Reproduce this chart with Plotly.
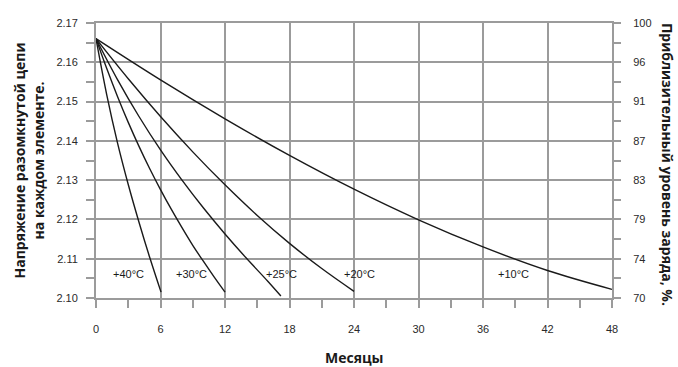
import plotly.graph_objects as go

# ---- data ----
months_40 = [0, 1, 2, 3, 4, 5, 6.05]
volts_40 = [2.166, 2.1517, 2.1395, 2.1289, 2.1193, 2.1103, 2.1015]

months_30 = [0, 1, 2, 3, 4, 5, 6, 7, 8, 9, 10, 11, 12]
volts_30 = [2.166, 2.1584, 2.1513, 2.1447, 2.1386, 2.1329, 2.1276, 2.1226, 2.1179, 2.1134, 2.1093, 2.1053, 2.1015]

months_25 = [0, 2, 4, 6, 8, 10, 12, 14, 16, 17.2]
volts_25 = [2.166, 2.1556, 2.1462, 2.1377, 2.1300, 2.1229, 2.1163, 2.1101, 2.1042, 2.1005]

months_20 = [0, 3, 6, 9, 12, 15, 18, 21, 24]
volts_20 = [2.166, 2.1558, 2.1462, 2.1372, 2.1288, 2.1210, 2.1139, 2.1075, 2.1017]

months_10 = [0, 6, 12, 18, 24, 30, 36, 42, 48]
volts_10 = [2.166, 2.1555, 2.1456, 2.1363, 2.1277, 2.1199, 2.1130, 2.1070, 2.1022]

curve_labels = ["+40°C", "+30°C", "+25°C", "+20°C", "+10°C"]
label_months = [3.0, 8.85, 17.3, 24.5, 38.8]
label_volts = [2.106, 2.106, 2.106, 2.106, 2.106]

x_ticks = [0, 6, 12, 18, 24, 30, 36, 42, 48]
left_ticks = [2.10, 2.11, 2.12, 2.13, 2.14, 2.15, 2.16, 2.17]
left_tick_text = ["2.10", "2.11", "2.12", "2.13", "2.14", "2.15", "2.16", "2.17"]
right_tick_pos = [0, 1, 2, 3, 4, 5, 6, 7]
right_tick_text = ["70", "74", "79", "83", "87", "91", "96", "100"]

left_title = "<b>Напряжение разомкнутой цепи<br>на каждом элементе.</b>"
right_title = "<b>Приблизительный уровень заряда, %.</b>"
x_title = "<b>Месяцы</b>"

GRID = "#9b9b9b"
LINE = "#1a1a1a"
TICKFONT = dict(family="Liberation Sans, Arial, sans-serif", size=11, color="#2a2a2a")
TITLEFONT = dict(family="Open Sans, sans-serif", size=14, color="#1a1a1a")

fig = go.Figure()
for mx, vy in [(months_40, volts_40), (months_30, volts_30), (months_25, volts_25),
               (months_20, volts_20), (months_10, volts_10)]:
    fig.add_trace(go.Scatter(x=mx, y=vy, mode="lines",
                             line=dict(color=LINE, width=1.4, shape="spline", smoothing=1.0),
                             showlegend=False, hoverinfo="skip"))

# invisible trace for the right axis
fig.add_trace(go.Scatter(x=[0, 48], y=[0, 7], yaxis="y2", mode="lines",
                         line=dict(color="rgba(0,0,0,0)"), showlegend=False, hoverinfo="skip"))

for t, mx, vy in zip(curve_labels, label_months, label_volts):
    fig.add_annotation(x=mx, y=vy, text=t, showarrow=False,
                       font=dict(family="Liberation Sans, Arial, sans-serif", size=11, color="#1a1a1a"),
                       xanchor="center", yanchor="middle")

fig.add_annotation(xref="paper", yref="paper", x=-0.13, y=0.5, text=left_title, textangle=-90,
                   showarrow=False, font=TITLEFONT, xanchor="center", yanchor="middle")
fig.add_annotation(xref="paper", yref="paper", x=1.108, y=0.485, text=right_title, textangle=90,
                   showarrow=False, font=TITLEFONT, xanchor="center", yanchor="middle")
fig.add_annotation(xref="paper", yref="paper", x=0.5, y=-0.215, text=x_title,
                   showarrow=False, font=TITLEFONT, xanchor="center", yanchor="middle")

fig.update_layout(
    width=678, height=367,
    margin=dict(l=96, r=66, t=23, b=69),
    paper_bgcolor="white", plot_bgcolor="white",
    xaxis=dict(range=[0, 48], tickvals=x_ticks, showgrid=True, gridcolor=GRID, gridwidth=2,
               ticks="outside", ticklen=8, tickcolor=GRID, tickwidth=2,
               showline=True, linecolor=GRID, linewidth=2, mirror=True,
               tickfont=TICKFONT, ticklabelstandoff=12, zeroline=False,
               minor=dict(dtick=3, tick0=0, ticks="outside", ticklen=8, tickcolor=GRID, tickwidth=2, showgrid=False)),
    yaxis=dict(range=[2.10, 2.17], tickvals=left_ticks, ticktext=left_tick_text, showgrid=True,
               gridcolor=GRID, gridwidth=2, ticks="outside", ticklen=8, tickcolor=GRID, tickwidth=2,
               showline=True, linecolor=GRID, linewidth=2, mirror=True,
               tickfont=TICKFONT, ticklabelstandoff=6, zeroline=False,
               minor=dict(dtick=0.005, tick0=2.10, ticks="outside", ticklen=8, tickcolor=GRID, tickwidth=2, showgrid=False)),
    yaxis2=dict(range=[0, 7], overlaying="y", side="right", tickvals=right_tick_pos, ticktext=right_tick_text,
                showgrid=False, ticks="outside", ticklen=8, tickcolor=GRID, tickwidth=2,
                tickfont=TICKFONT, ticklabelstandoff=10, zeroline=False, showline=False,
                minor=dict(dtick=0.5, tick0=0, ticks="outside", ticklen=8, tickcolor=GRID, tickwidth=2, showgrid=False)),
)

fig.write_html("out.html", config={"displayModeBar": False},
               post_script="document.body.style.margin='0px';")
